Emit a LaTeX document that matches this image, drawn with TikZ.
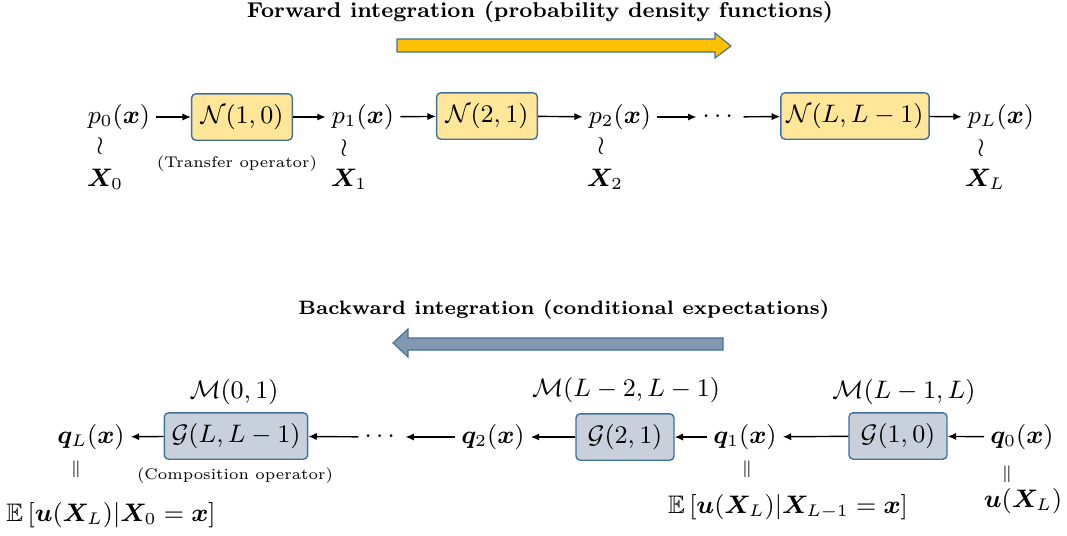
\documentclass[tikz,border=0pt]{standalone}
\usepackage{amsmath}
\usepackage{amssymb}
\usepackage{bm}
\usetikzlibrary{arrows.meta}
\definecolor{edgeblue}{HTML}{41719C}
\definecolor{fwdfill}{HTML}{FFE699}
\definecolor{fwdarrow}{HTML}{FFC000}
\definecolor{bwdfill}{RGB}{200,208,220}
\definecolor{bwdarrow}{HTML}{8497B0}

\begin{document}
\begin{tikzpicture}[x=0.0125cm, y=-0.0125cm,
  >={Latex[length=3pt,width=2.6pt]},
  every node/.style={inner sep=2pt, font=\fontsize{9}{11}\selectfont},
  op/.style={draw=edgeblue, line width=0.5pt, rounded corners=1.5pt,
    minimum height=0.58cm},
  fwd/.style={op, fill=fwdfill},
  bwd/.style={op, fill=bwdfill},
  lnk/.style={->, line width=0.5pt},
  note/.style={font=\fontsize{5.5}{7}\selectfont},
  wave/.style={inner sep=0pt},
  eqsign/.style={inner sep=0pt, font=\fontsize{6}{7}\selectfont},
  ttl/.style={font=\fontsize{7.6}{9}\selectfont\bfseries}]
  \useasboundingbox (0,0) rectangle (1067,536);

  % Forward direction.
  \node[ttl] (ftitle) at (540,12) {Forward integration (probability density functions)};
  \draw[draw=edgeblue, fill=fwdarrow, line width=0.4pt]
    (397,39) -- (715,39) -- (715,33) -- (731,46) -- (715,58) -- (715,52) -- (397,52) -- cycle;

  \node (p0) at (119,117) {$p_0(\bm{x})$};
  \node[fwd, minimum width=1.26cm] (N10) at (242,117) {$\mathcal{N}(1,0)$};
  \node (p1) at (363,117) {$p_1(\bm{x})$};
  \node[fwd, minimum width=1.26cm] (N21) at (487,116) {$\mathcal{N}(2,1)$};
  \node (p2) at (620,117) {$p_2(\bm{x})$};
  \node (fdots) at (720,117) {$\cdots$};
  \node[fwd, minimum width=1.8cm] (NLL) at (855,116) {$\mathcal{N}(L,L-1)$};
  \node (pL) at (1001,117) {$p_L(\bm{x})$};

  \node[wave] (w0) at (100,146) {$\wr$};
  \node[wave] (w1) at (344,148) {$\wr$};
  \node[wave] (w2) at (601,146) {$\wr$};
  \node[wave] (wL) at (981,148) {$\wr$};
  \node (X0) at (105,179) {$\bm{X}_0$};
  \node (X1) at (349,179) {$\bm{X}_1$};
  \node (X2) at (605,179) {$\bm{X}_2$};
  \node (XL) at (985,179) {$\bm{X}_L$};
  \node[note] (tlabel) at (237,164) {(Transfer operator)};

  \draw[lnk] (p0) -- (N10);
  \draw[lnk] (N10) -- (p1);
  \draw[lnk] (p1) -- (N21);
  \draw[lnk] (N21) -- (p2);
  \draw[lnk] (p2) -- (fdots);
  \draw[lnk] (fdots) -- (NLL);
  \draw[lnk] (NLL) -- (pL);

  % Backward direction.
  \node[ttl, font=\fontsize{6.9}{9}\selectfont\bfseries] (btitle) at (564,310) {Backward integration (conditional expectations)};
  \draw[draw=edgeblue, fill=bwdarrow, line width=0.4pt]
    (723,338) -- (408,338) -- (408,329) -- (393,343) -- (408,357) -- (408,350) -- (723,350) -- cycle;

  \node (q0) at (1022,437) {$\bm{q}_0(\bm{x})$};
  \node[bwd, minimum width=1.225cm] (G10) at (898,436) {$\mathcal{G}(1,0)$};
  \node (q1) at (745,437) {$\bm{q}_1(\bm{x})$};
  \node[bwd, minimum width=1.225cm] (G21) at (625,437) {$\mathcal{G}(2,1)$};
  \node (q2) at (493,437) {$\bm{q}_2(\bm{x})$};
  \node (bdots) at (382,437) {$\cdots$};
  \node[bwd, minimum width=1.79cm] (GLL) at (236,436) {$\mathcal{G}(L,L-1)$};
  \node (qL) at (91,437) {$\bm{q}_L(\bm{x})$};

  \node (M10) at (904,392) {$\mathcal{M}(L-1,L)$};
  \node (M21) at (626,390) {$\mathcal{M}(L-2,L-1)$};
  \node (MLL) at (234,392) {$\mathcal{M}(0,1)$};
  \node[note] (clabel) at (235,476) {(Composition operator)};

  \node[eqsign] (e0) at (1007,474) {$\|$};
  \node[eqsign] (e1) at (747,469) {$\|$};
  \node[eqsign] (eL) at (76,469) {$\|$};
  \node (u0) at (1023,501) {$\bm{u}(\bm{X}_L)$};
  \node (u1) at (788,507) {$\mathbb{E}\left[\bm{u}(\bm{X}_L)|\bm{X}_{L-1}=\bm{x}\right]$};
  \node (uL) at (111,515) {$\mathbb{E}\left[\bm{u}(\bm{X}_L)|\bm{X}_0=\bm{x}\right]$};

  \draw[lnk] (q0) -- (G10);
  \draw[lnk] (G10) -- (q1);
  \draw[lnk] (q1) -- (G21);
  \draw[lnk] (G21) -- (q2);
  \draw[lnk] (q2) -- (bdots);
  \draw[lnk] (bdots) -- (GLL);
  \draw[lnk] (GLL) -- (qL);
\end{tikzpicture}
\end{document}
